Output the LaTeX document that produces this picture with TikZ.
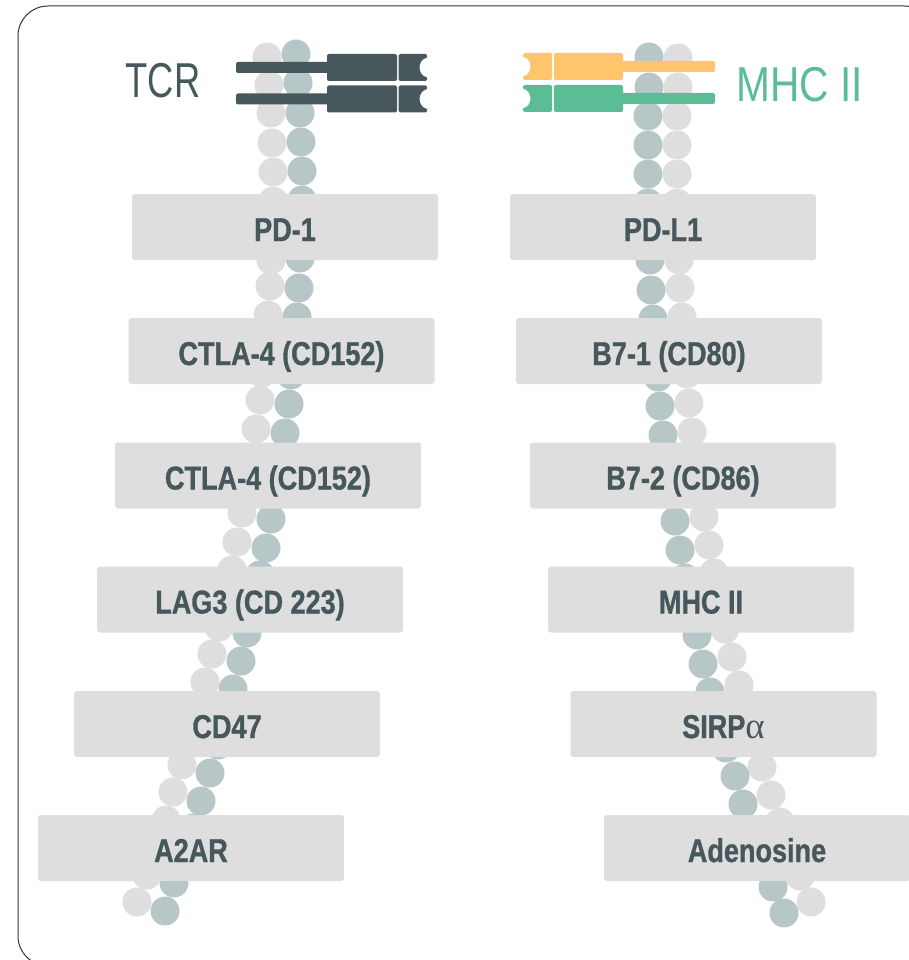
\documentclass[tikz,border=0pt]{standalone}
\usepackage{fontspec}
\setmainfont{Liberation Sans}
\newfontfamily\lblfont[FakeStretch=0.82,FakeBold=1.0]{Liberation Sans Bold}
\newfontfamily\tcrfont[FakeStretch=0.74]{Liberation Sans}
\newfontfamily\mhcfont[FakeStretch=0.83]{Liberation Sans}
\newfontfamily\greekfont{Liberation Serif}
\definecolor{ink}{HTML}{47585C}
\definecolor{beaddark}{HTML}{B7C7C8}
\definecolor{beadlight}{HTML}{DEDEDE}
\definecolor{boxgray}{HTML}{DEDEDE}
\definecolor{mhcorange}{HTML}{FFC56D}
\definecolor{mhcgreen}{HTML}{5BBD95}
\tikzset{
  x=1pt,y=-1pt,
  label box/.style={fill=boxgray,rounded corners=3pt,minimum width=306pt,minimum height=66pt,inner sep=0pt,
    text=ink,font=\fontsize{33}{33}\lblfont,text height=28pt,text depth=0pt,anchor=center},
  head label/.style={inner sep=0pt,anchor=base},
  frame line/.style={draw=black!80,line width=1pt},
  seg/.style={rounded corners=2pt}
}
\newcommand{\beads}[2]{\foreach \bx/\by in {#2} {\fill[#1] (\bx,\by) circle[radius=14.5pt];}}
% TCR-type chain: argument = top of the block
\newcommand{\tcrchain}[1]{%
  \fill[ink,seg] (236,#1+8) rectangle (329,#1+19);
  \fill[ink,seg] (327,#1) rectangle (397,#1+27);
  \fill[ink,rounded corners=1.5pt] (398.5,#1) -- (427,#1) [sharp corners] -- (427,#1+3.5)
     .. controls (417,#1+6) and (417,#1+21) .. (427,#1+23.5) [rounded corners=1.5pt] -- (427,#1+27) -- (398.5,#1+27) -- cycle;
}
\newcommand{\mhcchain}[2]{%
  \fill[#2,seg] (621,#1+8) rectangle (715,#1+19);
  \fill[#2,seg] (554,#1) rectangle (623,#1+27);
  \fill[#2,rounded corners=1.5pt] (552,#1) -- (523,#1) [sharp corners] -- (523,#1+3.5)
     .. controls (533,#1+6) and (533,#1+21) .. (523,#1+23.5) [rounded corners=1.5pt] -- (523,#1+27) -- (552,#1+27) -- cycle;
}
\begin{document}
\begin{tikzpicture}
\useasboundingbox (0,0) rectangle (909,960);
\draw[frame line,rounded corners=30pt] (18,6) rectangle (934,966);
% left helix
\beads{beadlight}{267/57,269/85,271/113,272/143,273/172,273/201,272/230,271/260,270/286,268/315,265/344,262/373,260/400,256/429,252/458,248/485,242/513,237/542,232/570,226/598,219/627,212/654,205/682,198/710,190/738,182/765,173/792,166/820,157/848,147/875,137/902}
\beads{beaddark}{296/54,298/83,300/113,301/142,302/171,302/200,301/229,300/258,299/288,297/317,294/346,291/375,289/404,285/433,280/462,276/490,271/519,266/548,260/575,254/604,247/633,241/661,233/689,226/718,218/745,210/773,201/801,193/828,184/857,174/883,165/911}
% right helix
\beads{beadlight}{678/58,678/87,677/116,677/145,677/174,677/203,678/232,679/260,680/288,682/317,684/346,687/374,689/403,692/432,697/460,700/488,704/517,709/545,714/573,719/601,725/629,732/657,739/685,746/713,753/740,762/767,771/795,780/822,790/849,800/876,811/902}
\beads{beaddark}{649/57,649/87,648/116,648/145,648/174,648/203,649/232,650/260,651/290,653/319,655/348,658/377,660/406,663/435,668/463,672/492,675/521,680/550,685/578,691/606,697/635,703/664,710/692,717/720,726/748,735/776,743/804,752/832,763/860,773/887,784/913}
% receptors
\tcrchain{54}
\tcrchain{85.5}
\mhcchain{53}{mhcorange}
\mhcchain{85}{mhcgreen}
\node[head label,text=ink,font=\fontsize{49}{49}\tcrfont] (tcr) at (163,98) {TCR};
\node[head label,text=mhcgreen,font=\fontsize{49}{49}\mhcfont] (mhc) at (800,102) {MHC II};
% labels
\node[label box] (pd1) at (285,227) {PD-1};
\node[label box] (ctla1) at (281.5,351) {CTLA-4 (CD152)};
\node[label box] (ctla2) at (268,475.5) {CTLA-4 (CD152)};
\node[label box] (lag3) at (250,599.5) {LAG3 (CD 223)};
\node[label box] (cd47) at (227,724) {CD47};
\node[label box] (a2ar) at (191,848) {A2AR};
\node[label box] (pdl1) at (663,227) {PD-L1};
\node[label box] (b71) at (669,351) {B7-1 (CD80)};
\node[label box] (b72) at (683,475.5) {B7-2 (CD86)};
\node[label box] (mhc2) at (701,599.5) {MHC II};
\node[label box] (sirp) at (723.5,724) {SIRP{\greekfont\fontsize{37}{37}\selectfont α}};
\node[label box] (adeno) at (757,848) {Adenosine};
\end{tikzpicture}
\end{document}
